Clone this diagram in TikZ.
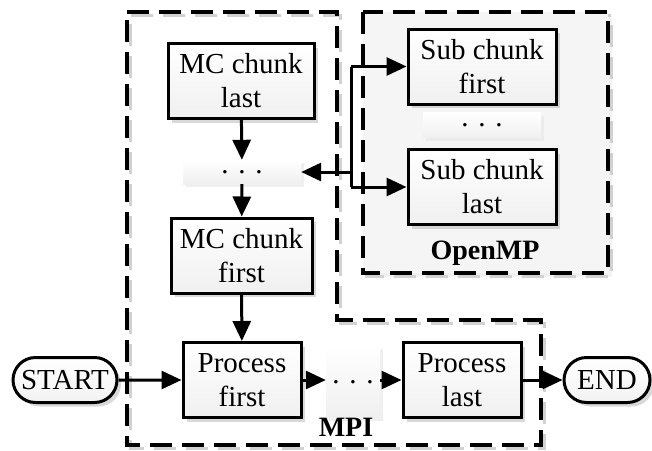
\documentclass[tikz,border=0pt]{standalone}
\usepackage{fontspec}
\setmainfont{Liberation Serif}
\usetikzlibrary{shapes.misc,shadows,arrows.meta}
\begin{document}
\begin{tikzpicture}[x=1pt,y=-1pt,
  txt/.style={font=\fontsize{29}{34}\selectfont},
  shad/.style={drop shadow={shadow xshift=4pt,shadow yshift=-4pt,fill=black!25,opacity=0.6}},
  box/.style={txt,draw,line width=3pt,top color=white,bottom color=black!6,
    minimum width=#1,minimum height=75pt,inner sep=0pt,align=center,shad},
  box/.default=146pt,
  term/.style={txt,rounded rectangle,draw,line width=3pt,top color=white,bottom color=black!5,
    minimum width=#1,minimum height=45pt,inner sep=0pt,shad},
  dotsbox/.style n args={2}{txt,top color=white,bottom color=black!6,minimum width=#1,minimum height=#2,
    inner sep=0pt,drop shadow={shadow xshift=3pt,shadow yshift=-3pt,fill=black!10,opacity=0.6}},
  region/.style={line width=3.2pt,dash pattern=on 22pt off 10pt},
  regshadow/.style={line width=3pt,dash pattern=on 22pt off 10pt,draw=black!18},
  arr/.style={line width=3pt,-{Triangle[length=20pt,width=18pt]}},
  con/.style={line width=3pt},
  lab/.style={font=\fontsize{28}{33}\selectfont\bfseries}
]
\useasboundingbox (0,0) rectangle (652,450);
% regions
\draw[regshadow,fill=black!5] (366.5,15.5) rectangle (611.5,276.5);
\draw[region,fill=black!4] (363,12) rectangle (608,273);
\draw[regshadow] (130.5,15.5) -- (340.5,15.5) -- (340.5,323.5) -- (544.5,323.5) -- (544.5,448.5) -- (130.5,448.5) -- cycle;
\draw[region] (127,12) -- (337,12) -- (337,320) -- (541,320) -- (541,445) -- (127,445) -- cycle;
% nodes
\node[box] (mclast) at (241,81) {MC chunk\\last};
\node[dotsbox={118pt}{24pt}] (dots1) at (242,172) {. . .};
\node[box=141pt] (mcfirst) at (241.5,255.5) {MC chunk\\first};
\node[box=118pt] (pfirst) at (242,380) {Process\\first};
\node[term=104pt] (start) at (65,380) {START};
\node[dotsbox={54pt}{72pt}] (dots2) at (353,382) {. . .};
\node[box=118pt] (plast) at (462,380) {Process\\last};
\node[term=86pt] (endn) at (607,380) {END};
\node[box=148pt] (sfirst) at (482,66.5) {Sub chunk\\first};
\node[dotsbox={118pt}{25pt}] (dots3) at (482,125) {. . .};
\node[box=148pt] (slast) at (482,187) {Sub chunk\\last};
\node[lab] (mpi) at (346,427) {MPI};
\node[lab,anchor=base] (omp) at (485,259) {OpenMP};
% connectors
\draw[arr] (mclast) -- (dots1);
\draw[arr] (dots1) -- (mcfirst);
\draw[arr] (mcfirst) -- (pfirst);
\draw[arr] (start) -- (pfirst);
\draw[arr] (pfirst.east) -- (pfirst.east -| dots2.west);
\draw[arr] (plast.west -| dots2.east) -- (plast.west);
\draw[arr] (plast) -- (endn);
\coordinate (ta) at (351,66.5);
\coordinate (tb) at (351,187);
\draw[con] (ta) -- (tb);
\draw[arr] (ta) -- (sfirst.west);
\draw[arr] (tb) -- (slast.west);
\draw[arr] (dots1.east -| ta) -- (dots1.east);
\end{tikzpicture}
\end{document}
